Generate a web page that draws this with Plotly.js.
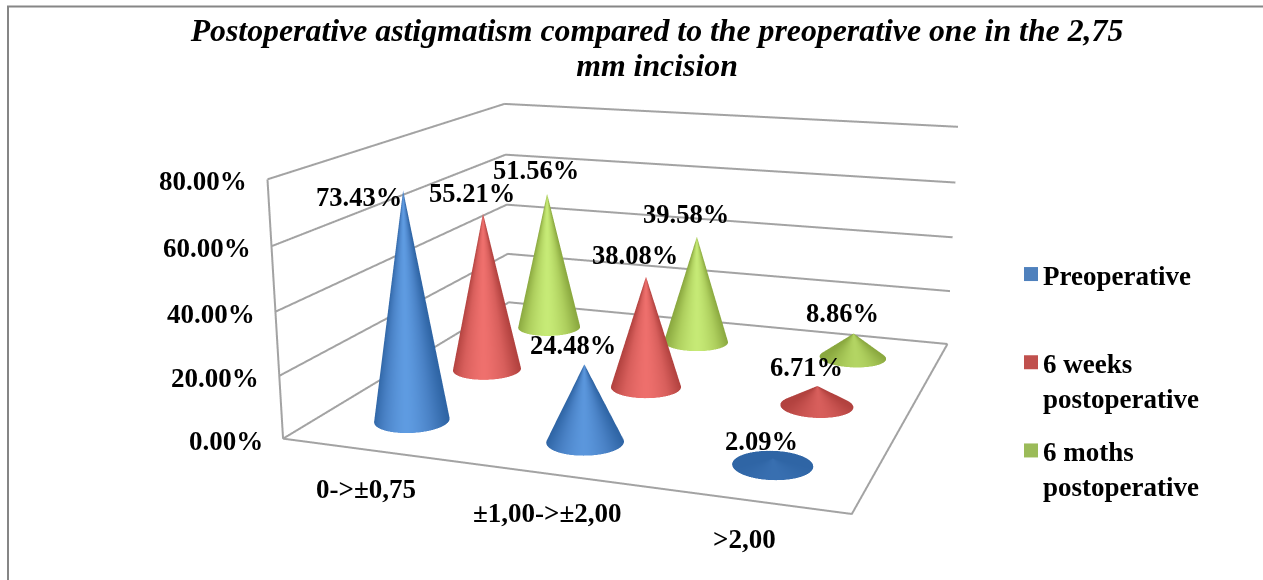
<!DOCTYPE html>
<html><head><meta charset="utf-8">
<script src="https://cdn.plot.ly/plotly-3.0.1.min.js"></script>
<style>html,body{margin:0;padding:0;width:1263px;height:580px;overflow:hidden;background:#fff}
#plot{position:absolute}</style></head>
<body><div id="plot"></div>
<script>
const categories = ["0->±0,75", "±1,00->±2,00", ">2,00"];
const seriesNames = ["Preoperative", "6 weeks<br>postoperative", "6 moths<br>postoperative"];
const preoperative = [73.43, 24.48, 2.09];
const weeks6 = [55.21, 38.08, 6.71];
const months6 = [51.56, 39.58, 8.86];
const tickValues = [0, 20, 40, 60, 80];
const tickLabels = ["0.00%", "20.00%", "40.00%", "60.00%", "80.00%"];
const titleText = "Postoperative astigmatism compared to the preoperative one in the 2,75<br>mm incision";

const W = 2000, H = 1290, LEFT = -354, TOP = -374;
const el = document.getElementById('plot');
el.style.cssText = `left:${LEFT}px;top:${TOP}px;width:${W}px;height:${H}px`;
const PX = x => (x - LEFT) / W, PY = y => 1 - (y - TOP) / H;

const aspect = {x: 1, y: 0.9518, z: 0.4568};
const eye = {x: 0.9364, y: -2.6721, z: 0.7114};
const ZMAX = 80, NC = 3;
const series = [preoperative, weeks6, months6];
const scales = [
  [[0, '#2f65a5'], [0.5, '#4a82c6'], [1, '#5f9ce2']],
  [[0, '#b2423f'], [0.5, '#d85f5c'], [1, '#f0716e']],
  [[0, '#8aa83f'], [0.5, '#aecf5e'], [1, '#c8ec78']]
];
const legendColors = ['#4f81bd', '#c0504d', '#9bbb59'];
const labelShiftX = [[-44, -11, -11], [-11, -11, -11], [-11, -11, -11]];
const labelShiftY = [[-6, 19, 17], [20, 22, 19], [24, 23, 21]];
const R = 0.067, font = 'Liberation Serif', FS = 26.5, ink = '#000', lineColor = '#a3a3a3';

function cone(cx, cy, h, cs) {
  const xs = [], ys = [], zs = [], cc = [], n = 96, rows = 4;
  const rx = R * NC / aspect.x, ry = R * NC / aspect.y;
  const vphi = Math.atan2(eye.y, eye.x);
  const hb = h / ZMAX * aspect.z;
  const nh = hb / Math.hypot(hb, R);
  for (let r = 0; r <= rows; r++) {
    const t = r / rows, X = [], Y = [], Z = [], C = [];
    for (let i = 0; i <= n; i++) {
      const a = 2 * Math.PI * i / n;
      X.push(cx + rx * (1 - t) * Math.cos(a));
      Y.push(cy + ry * (1 - t) * Math.sin(a));
      Z.push(h * t);
      C.push(Math.cos(a - vphi) > 0 ? nh * (1 - Math.pow(Math.abs(Math.sin(a - vphi)), 1.5)) : 0);
    }
    xs.push(X); ys.push(Y); zs.push(Z); cc.push(C);
  }
  return {type: 'surface', x: xs, y: ys, z: zs, surfacecolor: cc, cmin: 0, cmax: 1,
    colorscale: cs, showscale: false, showlegend: false, hoverinfo: 'skip',
    lighting: {ambient: 1, diffuse: 0, specular: 0, roughness: 1, fresnel: 0},
    contours: {x: {show: false}, y: {show: false}, z: {show: false}}};
}

const traces = [];
// wall gridlines and floor outline, taken from the axis ranges and tick values
const gx = [], gy = [], gz = [];
tickValues.forEach(v => { gx.push(0, 0, NC, null); gy.push(0, NC, NC, null); gz.push(v, v, v, null); });
gx.push(0, NC, NC); gy.push(0, 0, NC); gz.push(0, 0, 0); gx.push(null); gy.push(null); gz.push(null);
gx.push(0, 0); gy.push(NC, 0); gz.push(0, 0); gx.push(0); gy.push(0); gz.push(ZMAX);
traces.push({type: 'scatter3d', mode: 'lines', x: gx, y: gy, z: gz, connectgaps: false,
  line: {color: lineColor, width: 4}, showlegend: false, hoverinfo: 'skip'});
series.forEach((vals, s) => vals.forEach((v, c) => traces.push(cone(c + 0.5, s + 0.5, v, scales[s]))));
series.forEach((vals, s) => traces.push({type: 'scatter3d', mode: 'markers', legendgroup: 'g' + s,
  name: seriesNames[s] + (s === 0 ? '<br>&nbsp;' : ''),
  x: vals.map((v, c) => c + 0.5), y: vals.map(() => s + 0.5), z: vals.map(() => null),
  marker: {size: 14, symbol: 'square', color: legendColors[s]}, hoverinfo: 'skip'}));

const txt = {family: font, size: FS, color: ink, weight: 'bold'};
const txtT = Object.assign({}, txt, {size: 27});
const ann = [];
tickValues.forEach((v, i) => ann.push({x: 0, y: 0, z: v, text: '<b>' + tickLabels[i] + '</b>', showarrow: false,
  xanchor: 'right', yanchor: 'middle', xshift: -18, yshift: -2, font: txtT}));
categories.forEach((c, i) => ann.push({x: i + 0.5, y: 0, z: 0, text: '<b>' + c + '</b>', showarrow: false,
  xanchor: 'center', yanchor: 'middle', xshift: -2, yshift: -39, font: txtT}));
series.forEach((vals, s) => vals.forEach((v, c) => ann.push({x: c + 0.5, y: s + 0.5, z: v,
  text: '<b>' + v.toFixed(2) + '%</b>', showarrow: false, xanchor: 'center', yanchor: 'middle',
  xshift: labelShiftX[s][c], yshift: labelShiftY[s][c], font: txt})));

const axisBase = {showgrid: false, showline: false, zeroline: false, showticklabels: false, ticks: '',
  showbackground: false, showspikes: false, autorange: false, title: {text: ''}};
const layout = {
  width: W, height: H, margin: {l: 0, r: 0, t: 0, b: 0, pad: 0}, paper_bgcolor: '#fff',
  font: {family: font, color: ink},
  title: {text: '<b><i>' + titleText + '</i></b>', x: PX(657), y: PY(41), xref: 'paper', yref: 'paper',
    xanchor: 'center', yanchor: 'middle', font: {family: font, size: 31.8, color: ink}},
  showlegend: true,
  legend: {x: PX(1003), y: PY(250), xanchor: 'left', yanchor: 'top', bgcolor: 'rgba(0,0,0,0)', tracegroupgap: 15,
    valign: 'top', itemsizing: 'trace', itemclick: false, itemdoubleclick: false,
    font: {family: font, size: 27, color: ink, weight: 'bold'}},
  shapes: [{type: 'path', xref: 'paper', yref: 'paper',
    path: `M${PX(8)},${PY(580)} L${PX(8)},${PY(6.5)} L${PX(1263)},${PY(6.5)}`, line: {color: '#868686', width: 2}}],
  scene: {
    domain: {x: [0, 1], y: [0, 1]}, bgcolor: '#fff', dragmode: false,
    aspectmode: 'manual', aspectratio: aspect,
    camera: {eye: eye, center: {x: 0, y: 0, z: 0}, up: {x: 0, y: 0, z: 1}, projection: {type: 'perspective'}},
    xaxis: Object.assign({}, axisBase, {range: [0, NC]}),
    yaxis: Object.assign({}, axisBase, {range: [0, NC]}),
    zaxis: Object.assign({}, axisBase, {range: [0, ZMAX], tickmode: 'array', tickvals: tickValues, ticktext: tickLabels}),
    annotations: ann
  }
};
Plotly.newPlot(el, traces, layout, {displayModeBar: false, responsive: false}).then(() => {
  document.querySelectorAll('.gtitle tspan.line').forEach((t, i) => { if (i) t.setAttribute('dy', '1.1em'); });
  document.querySelectorAll('.legendsymbols').forEach(g => g.setAttribute('transform', 'translate(8,0)'));
});
</script></body></html>
